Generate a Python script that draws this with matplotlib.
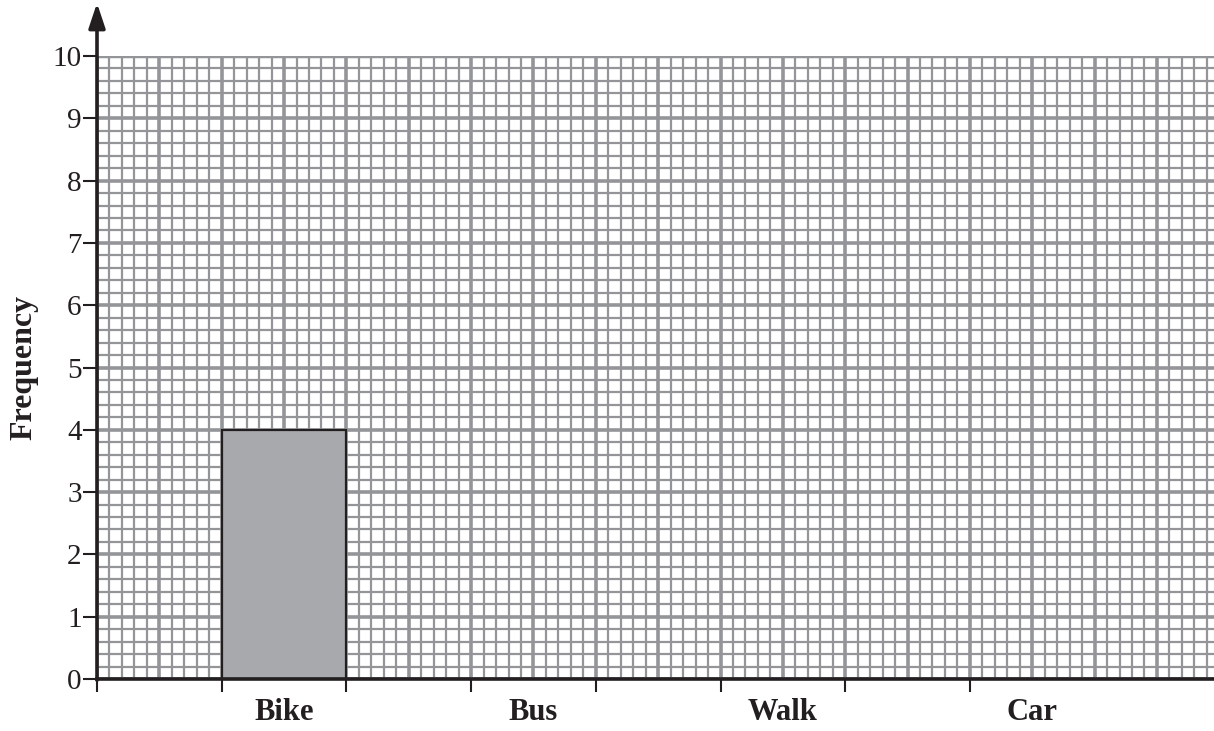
import numpy as np
import matplotlib.pyplot as plt

# data
categories = ['Bike', 'Bus', 'Walk', 'Car']
frequency = [4, None, None, None]   # only Bike is drawn
bar_left = [1, 3, 5, 7]
y_ticks = list(range(0, 11))
x_ticks = list(range(0, 8))

plt.rcParams['font.family'] = ['Liberation Serif', 'DejaVu Serif']
ink = '#231f20'
grid_col = '#939598'

fig = plt.figure(figsize=(12.14, 7.31), dpi=100)
ax = fig.add_axes([97 / 1214, 52 / 731, (1214 - 97) / 1214, (679 - 56) / 731])
xmax = (1214 - 97) / 124.7
ax.set_xlim(0, xmax)
ax.set_ylim(0, 10)

# graph paper grid
for x in np.arange(0, xmax + 0.01, 0.1):
    major = abs(x * 2 - round(x * 2)) < 1e-6
    ax.plot([x, x], [0, 10], color=grid_col, lw=2.6 if major else 1.6,
            zorder=2 if major else 1, solid_capstyle='butt')
for y in np.arange(0, 10.01, 0.2):
    major = abs(y - round(y)) < 1e-6
    ax.plot([0, xmax], [y, y], color=grid_col, lw=2.6 if major else 1.6,
            zorder=2 if major else 1, solid_capstyle='butt')
ax.plot([0, xmax], [10, 10], color=grid_col, lw=3.2, zorder=2)

# bars
for left, val in zip(bar_left, frequency):
    if val is not None:
        ax.bar(left, val, width=1, align='edge', color='#a7a9ac',
               edgecolor=ink, linewidth=1.6, zorder=3)

for s in ['top', 'right']:
    ax.spines[s].set_visible(False)
ax.spines['bottom'].set_linewidth(2.6)
ax.spines['bottom'].set_color(ink)
ax.spines['bottom'].set_zorder(5)
ax.spines['left'].set_visible(False)

# y axis with arrow
ax.annotate('', xy=(0, 10.85), xytext=(0, -0.02), xycoords='data',
            arrowprops=dict(arrowstyle='-|>,head_length=1.5,head_width=0.5',
                            color=ink, lw=2.6, shrinkA=0, shrinkB=0),
            annotation_clip=False, zorder=6)

ax.set_yticks(y_ticks)
ax.set_yticklabels([str(v) for v in y_ticks], fontsize=21, color=ink)
ax.tick_params(axis='y', length=10, width=1.5, color=ink, pad=1)
ax.set_xticks(x_ticks)
ax.set_xticklabels([])
ax.tick_params(axis='x', length=9, width=1.5, color=ink, direction='out')

for left, name in zip(bar_left, categories):
    ax.text(left + 0.5, -0.54, name, ha='center', va='center', fontsize=22,
            fontweight='bold', color=ink)

ax.set_ylabel('Frequency', fontsize=23, fontweight='bold', color=ink, labelpad=10)

fig.savefig('out.png', dpi=100)
